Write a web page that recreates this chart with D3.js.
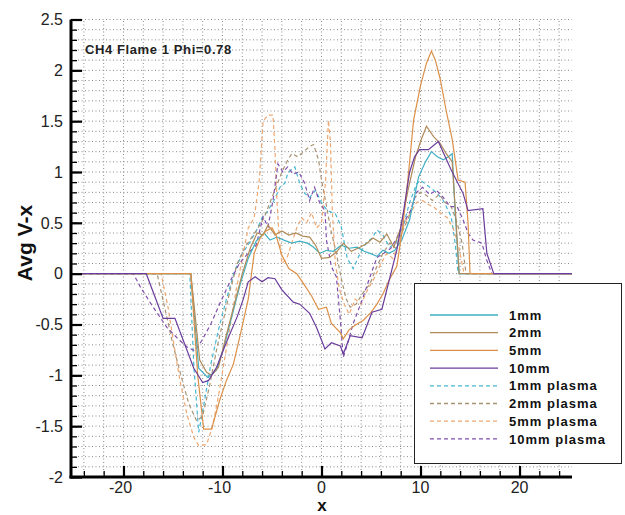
<html>
<head>
  <style>
    body { margin: 0px; padding: 0px; background-color: white; }
    svg { display: block; }
    text { font-family: "Liberation Sans", Arial, sans-serif; }
  </style>
</head>
<body>
  <div id="chart"></div>
  <script src="https://cdnjs.cloudflare.com/ajax/libs/d3/7.8.5/d3.min.js"></script>
  <script>
    // ---- data ----
    var x1mm = [-24.2, -13.2, -12.4, -11.5, -10.6, -9.8, -9, -8.2, -7.4, -6.6, -5.8, -5.2, -4.5, -3.8, -3.0, -2.2, -1.4, -0.8, -0.15, 0.5, 1.2, 2.0, 2.8, 3.6, 4.3, 4.9, 5.6, 6.2, 6.8, 7.4, 8.1, 8.9, 9.8, 10.5, 11.1, 11.7, 12.3, 12.8, 13.2, 13.5, 13.9, 25.3];
    var v1mm = [0, 0, -0.93, -1.02, -0.95, -0.7, -0.4, -0.1, 0.15, 0.32, 0.40, 0.33, 0.36, 0.33, 0.30, 0.32, 0.30, 0.26, 0.20, 0.23, 0.22, 0.28, 0.25, 0.26, 0.22, 0.20, 0.17, 0.23, 0.20, 0.23, 0.33, 0.53, 0.95, 1.10, 1.20, 1.15, 1.12, 1.15, 1.18, 0.6, 0, 0];

    var x2mm = [-24.2, -13.2, -12.3, -11.6, -11.1, -10.4, -9.6, -8.8, -8.0, -7.2, -6.5, -5.9, -5.4, -4.7, -4.0, -3.3, -2.6, -1.9, -1.2, -0.6, 0, 0.8, 1.5, 2.2, 3.0, 3.9, 4.6, 5.2, 5.9, 6.6, 7.3, 8.0, 8.8, 9.5, 10.0, 10.6, 11.3, 12.0, 12.6, 13.2, 13.6, 13.9, 25.3];
    var v2mm = [0, 0, -0.85, -0.97, -1.0, -0.92, -0.6, -0.3, 0.0, 0.25, 0.40, 0.38, 0.48, 0.38, 0.42, 0.38, 0.40, 0.37, 0.36, 0.28, 0.15, 0.16, 0.21, 0.30, 0.22, 0.26, 0.30, 0.35, 0.31, 0.39, 0.26, 0.45, 0.85, 1.15, 1.30, 1.45, 1.35, 1.28, 1.18, 1.10, 0.5, 0, 0];

    var x5mm = [-24.2, -13.2, -12.5, -11.9, -11.1, -10.3, -9.6, -8.9, -8.2, -7.4, -6.8, -6.2, -5.6, -5.0, -4.6, -4.0, -3.3, -2.5, -1.8, -1.0, -0.3, 0.5, 1.0, 1.9, 2.2, 2.8, 3.5, 4.2, 5.0, 5.6, 6.2, 6.9, 7.6, 8.2, 8.8, 9.3, 10.0, 10.6, 11.1, 11.5, 12.0, 12.6, 13.2, 13.8, 14.5, 14.8, 15.0, 25.3];
    var v5mm = [0, 0, -1.0, -1.53, -1.53, -1.25, -1.05, -0.89, -0.6, -0.25, 0.2, 0.35, 0.42, 0.45, 0.38, 0.18, 0.05, 0.0, -0.1, -0.22, -0.35, -0.33, -0.49, -0.58, -0.64, -0.55, -0.5, -0.46, -0.38, -0.3, -0.2, -0.05, 0.07, 0.45, 1.0, 1.51, 1.85, 2.07, 2.19, 2.1, 1.91, 1.6, 1.32, 0.92, 0.9, 0.5, 0, 0];

    var x10mm = [-24.2, -17.7, -16.0, -14.8, -12.9, -12.0, -11.4, -10.6, -9.5, -8.5, -7.9, -7.4, -6.7, -6.0, -5.4, -4.7, -4.0, -2.85, -2.2, -1.2, -0.5, 0.35, 1.0, 1.9, 2.2, 2.9, 4.1, 5.1, 6.1, 7.6, 8.3, 8.9, 9.4, 9.9, 10.8, 11.8, 13.1, 14.3, 14.8, 16.3, 16.7, 17.4, 25.3];
    var v10mm = [0, 0, -0.44, -0.44, -0.93, -1.07, -1.05, -0.92, -0.65, -0.42, -0.25, -0.08, -0.03, -0.08, -0.04, -0.05, -0.16, -0.28, -0.30, -0.39, -0.53, -0.74, -0.68, -0.71, -0.79, -0.61, -0.63, -0.38, -0.35, 0.23, 0.62, 1.0, 1.15, 1.22, 1.22, 1.30, 1.02, 0.79, 0.62, 0.64, 0.2, 0, 0];

    var x1mmP = [-24.2, -13.3, -12.9, -12.4, -11.9, -11.2, -10.4, -9.6, -8.8, -8.0, -7.3, -6.6, -6.0, -5.4, -4.8, -4.2, -3.7, -3.4, -2.7, -2.2, -1.7, -1.2, -0.6, 0.0, 0.6, 1.4, 2.0, 2.6, 3.2, 3.9, 4.5, 5.1, 5.6, 6.2, 6.9, 7.5, 8.2, 8.9, 9.6, 10.0, 10.8, 11.6, 12.3, 13.1, 13.5, 13.8, 25.3];
    var v1mmP = [0, 0, -0.9, -1.56, -1.3, -0.9, -0.55, -0.25, 0.02, 0.2, 0.3, 0.42, 0.55, 0.62, 0.72, 0.85, 0.89, 0.99, 1.05, 0.89, 0.79, 0.75, 0.82, 0.7, 0.62, 0.59, 0.46, 0.15, 0.05, 0.2, 0.3, 0.35, 0.43, 0.38, 0.26, 0.3, 0.45, 0.7, 0.88, 0.92, 0.86, 0.8, 0.72, 0.56, 0.3, 0, 0];

    var x2mmP = [-24.2, -16.6, -15.8, -15.0, -14.2, -13.4, -12.6, -12.0, -11.3, -10.6, -9.9, -9.2, -8.5, -7.8, -7.1, -6.4, -5.8, -5.2, -4.6, -4.0, -3.4, -3.0, -2.4, -1.8, -1.2, -0.8, -0.3, 0.0, 0.4, 0.9, 1.5, 2.0, 2.5, 2.9, 3.5, 4.1, 4.9, 5.5, 6.2, 6.9, 7.5, 8.1, 8.8, 9.4, 10.0, 10.6, 11.2, 11.9, 12.5, 13.1, 13.7, 14.2, 14.6, 25.3];
    var v2mmP = [0, 0, -0.35, -0.7, -1.0, -1.28, -1.45, -1.4, -1.1, -0.75, -0.45, -0.15, 0.1, 0.25, 0.35, 0.45, 0.55, 0.7, 0.85, 1.0, 1.12, 1.18, 1.15, 1.2, 1.25, 1.27, 1.12, 0.92, 0.72, 0.45, 0.2, -0.05, -0.25, -0.33, -0.3, -0.2, -0.1, 0.05, 0.2, 0.3, 0.25, 0.4, 0.55, 0.75, 0.8, 0.77, 0.72, 0.78, 0.7, 0.66, 0.5, 0.3, 0, 0];

    var x5mmP = [-24.2, -16.2, -15.5, -14.9, -14.3, -13.6, -12.9, -12.4, -11.6, -11.0, -10.4, -9.8, -9.2, -8.6, -8.0, -7.4, -6.8, -6.3, -5.9, -5.4, -4.9, -4.7, -4.5, -4.3, -4.0, -3.5, -3.0, -2.5, -2.0, -1.5, -1.0, -0.5, 0.0, 0.4, 0.7, 0.9, 1.1, 1.4, 1.8, 2.3, 2.8, 3.4, 4.0, 4.7, 5.3, 6.0, 6.6, 7.2, 7.8, 8.4, 9.0, 9.6, 10.2, 10.8, 11.4, 12.0, 12.7, 13.3, 13.9, 14.4, 25.3];
    var v5mmP = [0, 0, -0.33, -0.7, -1.05, -1.38, -1.61, -1.69, -1.68, -1.5, -1.2, -0.85, -0.5, -0.15, 0.15, 0.45, 0.55, 0.9, 1.5, 1.56, 1.56, 1.22, 0.72, 0.4, 0.1, 0.15, 0.3, 0.45, 0.55, 0.5, 0.6, 0.45, 0.5, 0.9, 1.51, 1.3, 0.6, 0.1, -0.15, -0.3, -0.4, -0.25, -0.3, -0.15, -0.05, 0.1, 0.2, 0.15, 0.3, 0.5, 0.6, 0.7, 0.72, 0.68, 0.65, 0.6, 0.55, 0.45, 0.25, 0, 0];

    var x10mmP = [-24.2, -19.0, -18.3, -17.0, -15.6, -14.6, -13.6, -12.8, -12.1, -11.2, -10.3, -9.2, -8.3, -7.4, -6.6, -5.9, -5.4, -4.9, -4.4, -3.9, -3.4, -2.9, -2.3, -1.7, -1.2, -0.7, -0.2, 0.35, 0.5, 1.0, 1.5, 1.9, 2.2, 2.6, 3.2, 4.1, 4.9, 5.6, 6.3, 7.0, 7.6, 8.3, 9.0, 9.6, 10.2, 10.9, 11.6, 12.3, 13.0, 13.7, 14.3, 14.8, 15.3, 16.2, 16.7, 17.2, 25.3];
    var v10mmP = [0, 0, -0.13, -0.33, -0.53, -0.63, -0.72, -0.76, -0.66, -0.5, -0.3, -0.07, 0.1, 0.2, 0.28, 0.56, 0.46, 0.72, 1.08, 1.0, 1.05, 0.98, 1.0, 0.89, 0.72, 0.85, 0.7, 0.62, 0.33, 0.07, -0.03, -0.45, -0.82, -0.7, -0.49, -0.26, -0.03, 0.16, 0.2, 0.25, 0.35, 0.5, 0.62, 0.8, 0.85, 0.78, 0.82, 0.75, 0.66, 0.66, 0.53, 0.4, 0.33, 0.3, 0.13, 0, 0];

    var seriesNames = ["1mm", "2mm", "5mm", "10mm", "1mm plasma", "2mm plasma", "5mm plasma", "10mm plasma"];
    var seriesColors = ["#3fb0c4", "#b08a58", "#dc9048", "#6a3c9c", "#46b6d2", "#a89274", "#eea872", "#8050ac"];
    var xTickLabels = ["-20", "-10", "0", "10", "20"];
    var yTickLabels = ["-2", "-1.5", "-1", "-0.5", "0", "0.5", "1", "1.5", "2", "2.5"];
    var titleText = "CH4 Flame 1 Phi=0.78";

    // ---- layout ----
    var width = 625, height = 515;
    var xs = [x1mm, x2mm, x5mm, x10mm, x1mmP, x2mmP, x5mmP, x10mmP];
    var vs = [v1mm, v2mm, v5mm, v10mm, v1mmP, v2mmP, v5mmP, v10mmP];
    var series = seriesNames.map(function(n, i) {
      return {
        name: n,
        color: seriesColors[i],
        dashed: n.indexOf("plasma") >= 0,
        pts: xs[i].map(function(x, j) { return [x, vs[i][j]]; })
      };
    });

    var x = d3.scaleLinear().domain([-25.3, 25.3]).range([71, 572]);
    var y = d3.scaleLinear().domain([-2, 2.5]).range([477, 19.5]);

    var svg = d3.select('#chart').append('svg')
      .attr('width', width)
      .attr('height', height);

    // grid
    var grid = svg.append('g');
    grid.selectAll('line.h')
      .data(d3.range(-20, 26).map(function(d) { return d / 10; }))
      .enter().append('line')
      .attr('x1', x.range()[0]).attr('x2', x.range()[1])
      .attr('y1', function(d) { return y(d); })
      .attr('y2', function(d) { return y(d); })
      .attr('stroke', '#8a8a8a')
      .attr('stroke-width', 1)
      .attr('stroke-dasharray', '1,2.5');
    grid.selectAll('line.v')
      .data(d3.range(-24, 26, 2))
      .enter().append('line')
      .attr('y1', y.range()[0]).attr('y2', y.range()[1])
      .attr('x1', function(d) { return x(d); })
      .attr('x2', function(d) { return x(d); })
      .attr('stroke', '#8a8a8a')
      .attr('stroke-width', 1)
      .attr('stroke-dasharray', '1,2.5');

    // curves
    var line = d3.line()
      .x(function(d) { return x(d[0]); })
      .y(function(d) { return y(d[1]); });

    var drawOrder = [4, 5, 6, 7, 0, 1, 2, 3];
    svg.append('g').selectAll('path')
      .data(drawOrder.map(function(i) { return series[i]; }))
      .enter().append('path')
      .attr('d', function(d) { return line(d.pts); })
      .attr('fill', 'none')
      .attr('stroke', function(d) { return d.color; })
      .attr('stroke-width', 1.2)
      .attr('stroke-dasharray', function(d) { return d.dashed ? '4,3' : null; });

    // axes
    var yAxis = d3.axisRight(y)
      .tickValues(d3.range(-20, 26).map(function(d) { return d / 10; }))
      .tickSize(6)
      .tickFormat('');
    svg.append('g')
      .attr('transform', 'translate(' + x.range()[0] + ',0)')
      .call(yAxis)
      .call(function(g) {
        g.select('.domain').remove();
        g.selectAll('.tick line').attr('stroke', '#000').attr('stroke-width', 1.3);
      });
    var yMajor = d3.axisRight(y)
      .tickValues(yTickLabels.map(Number))
      .tickSize(11)
      .tickFormat('');
    svg.append('g')
      .attr('transform', 'translate(' + x.range()[0] + ',0)')
      .call(yMajor)
      .call(function(g) {
        g.select('.domain').remove();
        g.selectAll('.tick line').attr('stroke', '#000').attr('stroke-width', 2.2);
      });

    var xMinor = d3.axisTop(x)
      .tickValues(d3.range(-24, 26, 2))
      .tickSize(6)
      .tickFormat('');
    svg.append('g')
      .attr('transform', 'translate(0,' + y.range()[0] + ')')
      .call(xMinor)
      .call(function(g) {
        g.select('.domain').remove();
        g.selectAll('.tick line').attr('stroke', '#000').attr('stroke-width', 1.3);
      });
    var xMajor = d3.axisTop(x)
      .tickValues(xTickLabels.map(Number))
      .tickSize(11)
      .tickFormat('');
    svg.append('g')
      .attr('transform', 'translate(0,' + y.range()[0] + ')')
      .call(xMajor)
      .call(function(g) {
        g.select('.domain').remove();
        g.selectAll('.tick line').attr('stroke', '#000').attr('stroke-width', 2.2);
      });

    // axis lines
    svg.append('line')
      .attr('x1', x.range()[0]).attr('x2', x.range()[0])
      .attr('y1', y.range()[1]).attr('y2', y.range()[0] + 1.5)
      .attr('stroke', '#000').attr('stroke-width', 3);
    svg.append('line')
      .attr('x1', x.range()[0] - 1.5).attr('x2', x.range()[1])
      .attr('y1', y.range()[0]).attr('y2', y.range()[0])
      .attr('stroke', '#000').attr('stroke-width', 3);

    // tick labels
    svg.selectAll('text.ylab')
      .data(yTickLabels)
      .enter().append('text')
      .attr('x', 63)
      .attr('y', function(d) { return y(+d); })
      .attr('dy', '0.36em')
      .attr('text-anchor', 'end')
      .attr('font-size', 16)
      .attr('fill', '#222')
      .text(function(d) { return d; });
    svg.selectAll('text.xlab')
      .data(xTickLabels)
      .enter().append('text')
      .attr('x', function(d) { return x(+d) - (d.charAt(0) === '-' ? 3 : 0); })
      .attr('y', 493)
      .attr('text-anchor', 'middle')
      .attr('font-size', 16)
      .attr('fill', '#222')
      .text(function(d) { return d; });

    // axis titles
    svg.append('text')
      .attr('transform', 'translate(32,243) rotate(-90)')
      .attr('text-anchor', 'middle')
      .attr('font-size', 21)
      .attr('font-weight', 'bold')
      .attr('fill', '#111')
      .text('Avg V-x');
    svg.append('text')
      .attr('x', 322)
      .attr('y', 511)
      .attr('text-anchor', 'middle')
      .attr('font-size', 17)
      .attr('font-weight', 'bold')
      .attr('fill', '#111')
      .text('x');

    // annotation
    svg.append('text')
      .attr('x', 85)
      .attr('y', 54)
      .attr('font-size', 13)
      .attr('font-weight', 'bold')
      .attr('letter-spacing', 0.6)
      .attr('fill', '#222')
      .text(titleText);

    // legend
    var legend = svg.append('g');
    legend.append('rect')
      .attr('x', 414.5).attr('y', 283.5)
      .attr('width', 207).attr('height', 180)
      .attr('fill', 'white')
      .attr('stroke', '#222')
      .attr('stroke-width', 1);
    var rows = legend.selectAll('g.row')
      .data(series)
      .enter().append('g')
      .attr('transform', function(d, i) { return 'translate(0,' + (315 + i * 17.7) + ')'; });
    rows.append('line')
      .attr('x1', 430).attr('x2', 498)
      .attr('stroke', function(d) { return d.color; })
      .attr('stroke-width', 1.3)
      .attr('stroke-dasharray', function(d) { return d.dashed ? '4,3' : null; });
    rows.append('text')
      .attr('x', 509)
      .attr('dy', '0.36em')
      .attr('font-size', 13)
      .attr('font-weight', 'bold')
      .attr('letter-spacing', 1)
      .attr('fill', '#111')
      .text(function(d) { return d.name; });
  </script>
</body>
</html>
